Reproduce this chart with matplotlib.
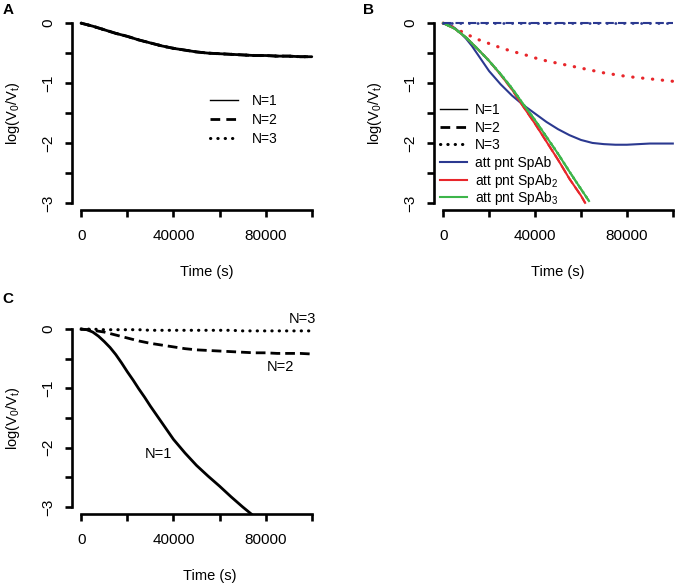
import matplotlib
matplotlib.use("Agg")
import matplotlib.pyplot as plt

plt.rcParams['font.family'] = ['Liberation Sans', 'DejaVu Sans']
plt.rcParams['mathtext.fontset'] = 'custom'
plt.rcParams['mathtext.rm'] = 'Liberation Sans'
plt.rcParams['mathtext.it'] = 'Liberation Sans:italic'

# ---------------- data ----------------
time_full = [0, 5000, 10000, 15000, 20000, 25000, 30000, 35000, 40000, 45000, 50000,
             55000, 60000, 65000, 70000, 75000, 80000, 85000, 90000, 95000, 100000]

# Panel A: N=1, N=2, N=3 coincide
A_n1 = [0, -0.05, -0.11, -0.17, -0.22, -0.28, -0.33, -0.38, -0.42, -0.45, -0.48,
        -0.50, -0.51, -0.52, -0.53, -0.54, -0.54, -0.55, -0.55, -0.56, -0.56]
A_n2 = A_n1
A_n3 = A_n1

# Panel B
time_spab = [0, 2500, 5000, 7500, 10000, 12500, 15000, 17500, 20000, 25000, 30000,
             35000, 40000, 45000, 50000, 55000, 60000, 65000, 70000, 75000, 80000,
             85000, 90000, 95000, 100000]
B_spab_n1 = [0, -0.02, -0.08, -0.16, -0.26, -0.38, -0.52, -0.66, -0.80, -1.02, -1.21,
             -1.37, -1.51, -1.65, -1.77, -1.87, -1.95, -2.00, -2.02, -2.03, -2.03,
             -2.02, -2.01, -2.01, -2.01]
B_spab_n2 = [0, 0, 0, 0, 0, 0, 0, 0, 0, 0, 0, 0, 0, 0, 0, 0, 0, 0, 0, 0, 0]
B_spab_n3 = [0, 0, 0, 0, 0, 0, 0, 0, 0, 0, 0, 0, 0, 0, 0, 0, 0, 0, 0, 0, 0]

time_spab2 = [0, 5000, 10000, 15000, 20000, 25000, 30000, 35000, 40000, 45000, 50000,
              55000, 60000, 61800]
B_spab2_n1 = [0, -0.09, -0.24, -0.43, -0.63, -0.86, -1.11, -1.40, -1.68, -1.98, -2.28,
              -2.60, -2.88, -3.00]
B_spab2_n2 = B_spab2_n1
B_spab2_n3 = [0, -0.08, -0.18, -0.27, -0.34, -0.41, -0.47, -0.52, -0.58, -0.63, -0.67,
              -0.71, -0.75, -0.79, -0.83, -0.86, -0.89, -0.91, -0.93, -0.95, -0.97]

time_spab3 = [0, 5000, 10000, 15000, 20000, 25000, 30000, 35000, 40000, 45000, 50000,
              55000, 60000, 63500]
B_spab3_n1 = [0, -0.09, -0.24, -0.43, -0.63, -0.85, -1.09, -1.36, -1.62, -1.90, -2.18,
              -2.48, -2.77, -2.97]
B_spab3_n2 = B_spab3_n1
B_spab3_n3 = B_spab3_n1

# Panel C
time_c1 = [0, 2500, 5000, 7500, 10000, 12500, 15000, 17500, 20000, 22500, 25000,
           27500, 30000, 35000, 40000, 45000, 50000, 55000, 60000, 65000, 70000, 75000]
C_n1 = [0, -0.01, -0.05, -0.12, -0.21, -0.31, -0.43, -0.57, -0.72, -0.86, -1.01,
        -1.15, -1.30, -1.58, -1.86, -2.09, -2.30, -2.48, -2.65, -2.83, -3.00, -3.16]
C_n2 = [0, -0.02, -0.05, -0.10, -0.15, -0.20, -0.24, -0.27, -0.30, -0.33, -0.35,
        -0.36, -0.37, -0.38, -0.39, -0.40, -0.40, -0.41, -0.41, -0.41, -0.42]
C_n3 = [0, 0, -0.01, -0.01, -0.01, -0.01, -0.02, -0.02, -0.02, -0.02, -0.02,
        -0.02, -0.02, -0.02, -0.03, -0.03, -0.03, -0.03, -0.03, -0.03, -0.03]

x_ticks = [0, 20000, 40000, 60000, 80000, 100000]
x_ticklabels = ['0', '', '40000', '', '80000', '']
y_ticks = [-3, -2.5, -2, -1.5, -1, -0.5, 0]
y_ticklabels = ['\u22123', '', '\u22122', '', '\u22121', '', '0']

legend_n = ['N=1', 'N=2', 'N=3']
legend_b = ['att pnt SpAb', 'att pnt SpAb$_2$', 'att pnt SpAb$_3$']

BLUE = '#2b3990'
RED = '#e8262b'
GREEN = '#3db54a'

DASH = (0, (3.5, 1.8))
DOT = (0, (0.1, 2.3))

# ---------------- figure ----------------
W, H = 676, 585
fig = plt.figure(figsize=(W / 100, H / 100), dpi=100)


def rect(l, r, t, b):
    return [l / W, (H - b) / H, (r - l) / W, (b - t) / H]


def style(ax, ylab_x):
    ax.set_xlim(-4000, 104000)
    ax.set_ylim(-3.12, 0.12)
    for s in ['top', 'right']:
        ax.spines[s].set_visible(False)
    ax.spines['left'].set_bounds(-3, 0)
    ax.spines['bottom'].set_bounds(0, 100000)
    for s in ['left', 'bottom']:
        ax.spines[s].set_linewidth(1.9)
    ax.set_xticks(x_ticks)
    ax.set_xticklabels(x_ticklabels)
    ax.set_yticks(y_ticks)
    ax.set_yticklabels(y_ticklabels, rotation=90, va='center')
    ax.tick_params(axis='both', direction='out', length=5, width=1.9, labelsize=11)
    ax.tick_params(axis='x', pad=9)
    ax.tick_params(axis='y', pad=7)
    ax.set_xlabel('Time (s)', fontsize=10.5)
    ax.set_ylabel('log(V$_0$/V$_\\mathrm{t}$)', fontsize=10.5)
    ax.xaxis.set_label_coords(0.54, -0.285)
    ax.yaxis.set_label_coords(ylab_x, 0.5)
    ax.patch.set_alpha(0)


def manual_legend(ax, box, styles, labels, x0, x1, xt, rows, fs):
    """box = (left, right, top, bottom) of the axes in pixels; rows = row centres (px)."""
    l, r, t, b = box
    fx = lambda px: (px - l) / (r - l)
    fy = lambda py: (b - py) / (b - t)
    for st, lab, yc in zip(styles, labels, rows):
        ax.plot([fx(x0), fx(x1)], [fy(yc), fy(yc)], transform=ax.transAxes,
                clip_on=False, **st)
        ax.text(fx(xt), fy(yc + 5), lab, transform=ax.transAxes, fontsize=fs,
                ha='left', va='baseline')


key_n = [dict(color='black', lw=1.0, ls='-'),
         dict(color='black', lw=2.0, ls=(0, (3.5, 2.2))),
         dict(color='black', lw=2.2, ls=(0, (0.1, 2.3)), dash_capstyle='round')]
key_b = [dict(color=BLUE, lw=1.5, ls='-'),
         dict(color=RED, lw=1.5, ls='-'),
         dict(color=GREEN, lw=1.5, ls='-')]

# Panel A
boxA = (72, 321, 16, 210)
axA = fig.add_axes(rect(*boxA))
style(axA, -0.2)
axA.plot(time_full, A_n1, color='black', lw=2.0, ls='-', solid_capstyle='round')
axA.plot(time_full, A_n2, color='black', lw=2.0, ls=DASH)
axA.plot(time_full, A_n3, color='black', lw=2.2, ls=DOT, dash_capstyle='round')
manual_legend(axA, boxA, key_n, legend_n, 210, 238, 252, [100, 119, 138], 10)

# Panel B
boxB = (434, 682, 16, 210)
axB = fig.add_axes(rect(*boxB))
style(axB, -0.2)
axB.xaxis.set_label_coords(0.5, -0.285)
axB.plot(time_spab, B_spab_n1, color=BLUE, lw=1.5, ls='-')
axB.plot(time_spab2, B_spab2_n1, color=RED, lw=1.5, ls='-')
axB.plot(time_spab2, B_spab2_n2, color=RED, lw=1.5, ls=(0, (4, 2)))
axB.plot(time_full, B_spab2_n3, color=RED, lw=2.3, ls=(0, (0.1, 3.0)), dash_capstyle='round')
axB.plot(time_spab3, B_spab3_n1, color=GREEN, lw=1.5, ls='-')
axB.plot(time_spab3, B_spab3_n2, color=GREEN, lw=1.5, ls=(0, (4, 2)))
axB.plot(time_spab3, B_spab3_n3, color=GREEN, lw=2.0, ls=(0, (0.1, 2.0)), dash_capstyle='round')
axB.plot(time_full, B_spab_n2, color=BLUE, lw=1.5, ls=(0, (4, 2)))
axB.plot(time_full, B_spab_n3, color=BLUE, lw=2.0, ls=(0, (0.1, 3.0)), dash_capstyle='round')
manual_legend(axB, boxB, key_n + key_b, legend_n + legend_b, 440, 467, 475,
              [109, 127, 144, 162, 180, 197], 10)

# Panel C
axC = fig.add_axes(rect(72, 321, 322, 514))
style(axC, -0.2)
axC.xaxis.set_label_coords(0.555, -0.285)
axC.plot(time_c1, C_n1, color='black', lw=2.0, ls='-')
axC.plot(time_full, C_n2, color='black', lw=2.0, ls=DASH)
axC.plot(time_full, C_n3, color='black', lw=2.2, ls=DOT, dash_capstyle='round')
axC.text(96000, 0.17, 'N=3', fontsize=10.5, ha='center', va='center', clip_on=False)
axC.text(86500, -0.64, 'N=2', fontsize=10.5, ha='center', va='center')
axC.text(33500, -2.1, 'N=1', fontsize=10.5, ha='center', va='center')

# panel letters
fig.text(8 / W, 1 - 10 / H, 'A', fontsize=11, fontweight='bold', ha='center', va='center')
fig.text(368 / W, 1 - 10 / H, 'B', fontsize=11, fontweight='bold', ha='center', va='center')
fig.text(8 / W, 1 - 299 / H, 'C', fontsize=11, fontweight='bold', ha='center', va='center')

fig.savefig('out.png', dpi=100)
